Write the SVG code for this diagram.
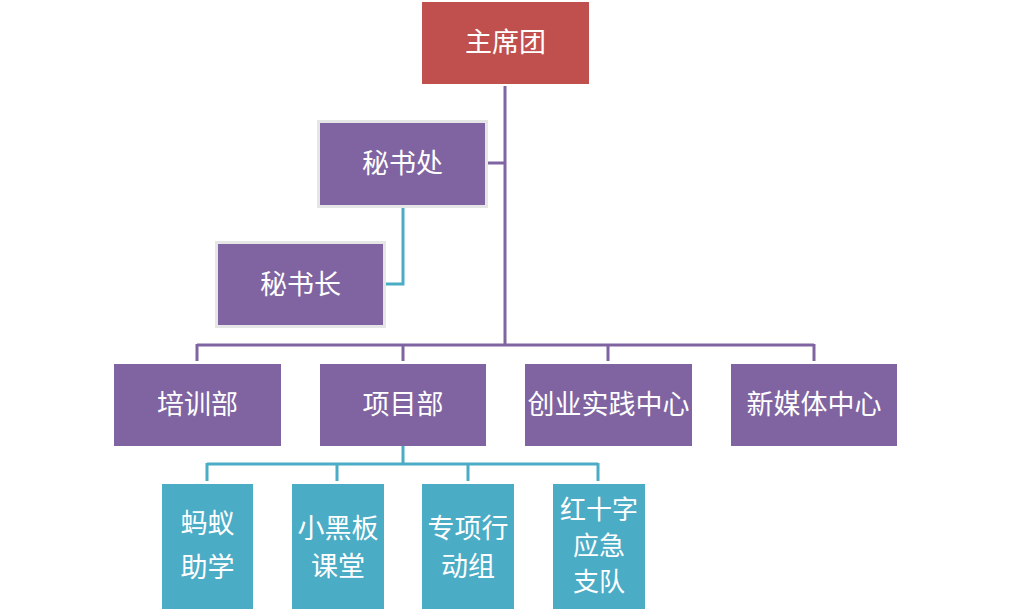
<svg xmlns="http://www.w3.org/2000/svg" width="1011" height="611" viewBox="0 0 1011 611">
<style>
text{font-family:"Noto Sans CJK SC","Liberation Serif",serif;font-size:27px;fill:#fff;text-anchor:middle}
.ml{font-size:26px}
.red{fill:#C0504D}
.pur{fill:#8064A2}
.purb{fill:#8064A2;stroke:#E6E6E6;stroke-width:3}
.teal{fill:#4BACC6}
.lp{fill:none;stroke:#8064A2;stroke-width:3}
.lt{fill:none;stroke:#4BACC6;stroke-width:3}
</style>
<rect width="1011" height="611" fill="#fff"/>
<g id="connectors">
<path class="lp" d="M505,86 V345 M488,163 H505 M197,345 H814 M197,344 V361 M403,344 V361 M608,344 V361 M814,344 V361"/>
<path class="lt" d="M403,207 V284 H385"/>
<path class="lt" d="M403,446 V464 M207,464 H598 M207,463 V481 M337,463 V481 M468,463 V481 M598,463 V481"/>
</g>
<g id="zhuxituan"><rect class="red" x="422" y="2" width="167" height="82"/><text x="505.5" y="52">主席团</text></g>
<g id="mishuchu"><rect class="purb" x="318.5" y="121.5" width="168" height="85"/><text x="402.5" y="173">秘书处</text></g>
<g id="mishuzhang"><rect class="purb" x="216.5" y="242.5" width="168" height="84"/><text x="300.5" y="294">秘书长</text></g>
<g id="peixunbu"><rect class="pur" x="114" y="364" width="167" height="82"/><text x="197.5" y="414">培训部</text></g>
<g id="xiangmubu"><rect class="pur" x="320" y="364" width="166" height="82"/><text x="403" y="414">项目部</text></g>
<g id="chuangye"><rect class="pur" x="525" y="364" width="167" height="82"/><text x="608.5" y="414">创业实践中心</text></g>
<g id="xinmeiti"><rect class="pur" x="731" y="364" width="166" height="82"/><text x="814" y="414">新媒体中心</text></g>
<g id="mayi"><rect class="teal" x="162" y="484" width="91" height="125"/><text x="207.5" y="533">蚂蚁<tspan x="207.5" dy="44">助学</tspan></text></g>
<g id="xiaoheiban"><rect class="teal" x="292" y="484" width="92" height="125"/><text x="338" y="538">小黑板<tspan x="338" dy="38">课堂</tspan></text></g>
<g id="zhuanxiang"><rect class="teal" x="422" y="484" width="92" height="125"/><text x="468" y="538">专项行<tspan x="468" dy="38">动组</tspan></text></g>
<g id="hongshizi"><rect class="teal ml" x="553" y="484" width="92" height="125"/><text class="ml" x="599" y="519">红十字<tspan x="599" dy="36">应急</tspan><tspan x="599" dy="36">支队</tspan></text></g>
</svg>
